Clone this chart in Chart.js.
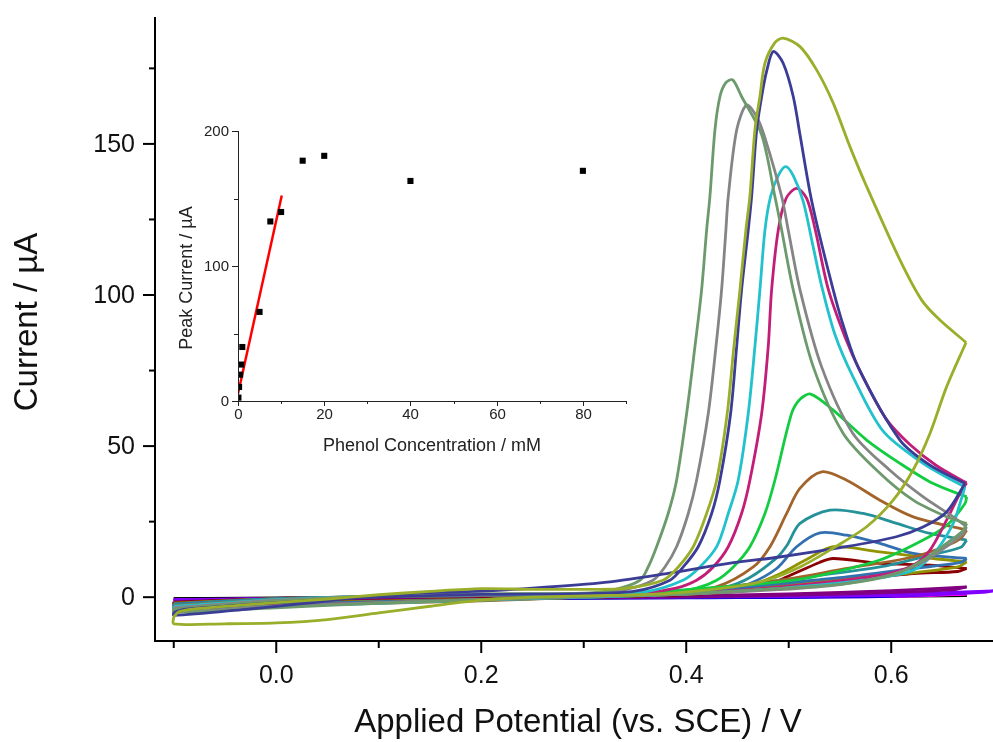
<!DOCTYPE html>
<html>
<head>
<meta charset="utf-8">
<script src="https://cdn.jsdelivr.net/npm/chart.js@4.4.1/dist/chart.umd.min.js"></script>
<style>
  body { margin: 0; background: #fff; }
  #wrap { position: relative; width: 993px; height: 742px; }
  #wrap canvas { position: absolute; left: 0; top: 0; }
</style>
</head>
<body>
<div id="wrap">
  <canvas id="cv" width="993" height="742"></canvas>
  <canvas id="inset" width="993" height="742"></canvas>
</div>
<script>
// Cyclic voltammograms: [potential V, current uA], forward then reverse scan
var oliveFwd = [[-0.1,-6.5],[-0.095,-4.8],[-0.08,-3.9],[-0.04,-2.8],[0,-1.8],[0.05,-0.6],[0.1,0.8],[0.15,1.9],[0.2,2.8],[0.25,2.6],[0.3,2.6],[0.34,2.9],[0.3773,5.6],[0.3922,10],[0.4068,16.7],[0.4199,27.7],[0.4297,38.7],[0.44,60.8],[0.4465,82.9],[0.4524,101.7],[0.4582,121.5],[0.4621,132.6],[0.467,154.6],[0.4719,165.7],[0.4768,176.7],[0.4865,183.5],[0.4946,185],[0.511,182.2],[0.5272,174.5],[0.5434,163.5],[0.5597,149.1],[0.576,135.9],[0.6085,111.6],[0.6297,98.3],[0.6475,91.7],[0.673,84.3]];
var oliveRev = [[0.673,84.3],[0.654,69.6],[0.6378,54.2],[0.6212,42],[0.6017,32],[0.576,23.3],[0.5431,16.2],[0.511,10],[0.4784,5.6],[0.4456,3.4],[0.381,1.2],[0.3,0.4],[0.25,0],[0.2,-1],[0.15,-3],[0.1,-5.2],[0.05,-7.4],[0,-8.5],[-0.05,-8.8],[-0.1,-8.8],[-0.1,-6.5]];

var navyFwd = [[-0.1,-5],[-0.09,-4],[-0.05,-3],[0,-1.8],[0.05,-0.8],[0.1,0],[0.2,0.9],[0.3,1.2],[0.35,2],[0.3841,5.6],[0.3971,10],[0.4117,16.7],[0.4248,27.7],[0.4329,38.7],[0.4433,60.8],[0.4492,82.9],[0.454,101.7],[0.4605,121.5],[0.4638,132.6],[0.4687,154.6],[0.4736,165.7],[0.4784,174],[0.4849,180.6],[0.4946,176.7],[0.5044,165.7],[0.511,153],[0.5207,134],[0.5288,121.5],[0.5434,101.7],[0.5516,91.7],[0.5675,76.3],[0.6085,52],[0.6378,43.7],[0.672,37.6]];
var navyRev = [[0.672,37.6],[0.654,28.2],[0.631,23.2],[0.605,20],[0.556,16.7],[0.491,13.3],[0.446,11.4],[0.381,7.8],[0.316,4.7],[0.228,2.5],[0.182,1.8],[0.128,1.2],[0.08,0],[0.03,-2],[-0.03,-4],[-0.1,-6],[-0.1,-5]];

var sageFwd = [[-0.1,-4],[-0.05,-2.6],[0,-1.3],[0.1,0.3],[0.2,1.1],[0.3,1.3],[0.33,2.5],[0.3549,5.6],[0.3629,10],[0.3711,16.7],[0.3824,27.7],[0.3906,38.7],[0.4004,60.8],[0.4085,82.9],[0.415,101.7],[0.4199,121.5],[0.4231,132.6],[0.428,154.6],[0.4329,165.7],[0.4385,170.2],[0.4453,171.2],[0.454,165.7],[0.4736,153],[0.4865,132.6],[0.4931,121.5],[0.5044,101.7],[0.5239,76.3],[0.5532,54.2],[0.589,41],[0.6215,32.1],[0.654,26.6],[0.6736,24.4]];
var sageRev = [[0.6736,24.4],[0.67,22],[0.654,17.8],[0.6312,12.3],[0.6053,7.8],[0.5565,4.5],[0.4914,2.9],[0.4,1.2],[0.3,0.3],[0.2,-0.8],[0.1,-2],[0,-3.5],[-0.1,-5],[-0.1,-4]];

var grayFwd = [[-0.1,-3.5],[-0.05,-2.2],[0,-1],[0.1,0.3],[0.2,1],[0.3,1.2],[0.34,2.5],[0.3675,5.6],[0.3792,10],[0.3906,16.7],[0.402,27.7],[0.4101,38.7],[0.4215,60.8],[0.429,82.9],[0.4345,101.7],[0.4387,121.5],[0.441,132.6],[0.4492,154.6],[0.4589,162.9],[0.4687,159],[0.4768,152],[0.4931,132.6],[0.4995,121.5],[0.511,101.7],[0.532,76.3],[0.5626,54.2],[0.5987,42],[0.6312,33.2],[0.6605,26.6],[0.6735,23.3]];
var grayRev = [[0.6735,23.3],[0.67,21],[0.655,17],[0.63,11.5],[0.6,7.5],[0.55,4.2],[0.49,2.5],[0.4,1],[0.3,0.2],[0.2,-0.8],[0.1,-1.8],[0,-3],[-0.1,-4.5],[-0.1,-3.5]];

var cyanFwd = [[-0.1,-3],[0,-0.8],[0.1,0.3],[0.2,0.8],[0.3,1],[0.36,1.8],[0.3968,5.6],[0.4134,10],[0.4297,16.7],[0.441,27.7],[0.4507,38.7],[0.4605,60.8],[0.467,82.9],[0.4719,101.7],[0.4768,121.5],[0.4823,132.6],[0.4898,139.5],[0.497,142.5],[0.5044,139.5],[0.5141,131],[0.5232,117],[0.5321,103],[0.545,87],[0.5626,73],[0.5919,55],[0.63,44.5],[0.655,39.5],[0.6719,36.5]];
var cyanRev = [[0.6719,36.5],[0.668,32],[0.6605,24.4],[0.6443,15.6],[0.6215,8.9],[0.5727,5.6],[0.4914,2.9],[0.4,1],[0.3,0],[0.2,-1],[0.1,-2],[0,-3],[-0.1,-4],[-0.1,-3]];

var magentaFwd = [[-0.1,-3.2],[0,-1],[0.1,0.2],[0.2,0.7],[0.3,1],[0.36,1.5],[0.39,3],[0.4101,5.6],[0.4263,10],[0.441,16.7],[0.454,27.7],[0.4621,38.7],[0.4736,60.8],[0.48,82.9],[0.4833,101.7],[0.4898,121.5],[0.4975,132],[0.5077,135.3],[0.5175,132],[0.5256,122],[0.5385,102],[0.555,86],[0.5694,75],[0.595,59],[0.6182,50.5],[0.6443,43.5],[0.6736,37.8]];
var magentaRev = [[0.6736,37.8],[0.667,34.3],[0.654,25.5],[0.6378,15.6],[0.6215,10.6],[0.589,7.3],[0.4914,3.4],[0.4,1.2],[0.3,0.2],[0.2,-0.8],[0.1,-1.8],[0,-2.8],[-0.1,-4],[-0.1,-3.2]];

var greenFwd = [[-0.1,-3.5],[0,-1],[0.1,0.2],[0.2,0.8],[0.3,1],[0.38,1.6],[0.41,3],[0.4297,5.6],[0.4459,10],[0.4621,16.7],[0.4768,27.7],[0.4865,38.7],[0.5028,60.8],[0.511,65.5],[0.5214,67.2],[0.5434,61.9],[0.576,52],[0.6085,44.3],[0.641,37.6],[0.6736,33.2]];
var greenRev = [[0.6736,33.2],[0.672,31],[0.655,24],[0.6312,18.9],[0.589,12.3],[0.5239,6.7],[0.4914,5.1],[0.42,3],[0.35,1.3],[0.3,0.5],[0.2,-0.8],[0.1,-1.8],[0,-3],[-0.1,-4.2],[-0.1,-3.5]];

var brownFwd = [[-0.1,-2.8],[0,-0.8],[0.1,0.2],[0.2,0.6],[0.3,0.8],[0.38,1.2],[0.43,3.5],[0.4654,10],[0.4817,16.7],[0.498,27.7],[0.5109,36],[0.5321,41.5],[0.5565,38.7],[0.589,32.1],[0.6215,26.6],[0.6736,22.2]];
var brownRev = [[0.6736,22.2],[0.668,19.5],[0.654,17],[0.6215,13.3],[0.5565,9.5],[0.4914,5.6],[0.42,2.8],[0.35,1],[0.3,0],[0.2,-1.2],[0.1,-2],[0,-2.8],[-0.1,-3.6],[-0.1,-2.8]];

var tealFwd = [[-0.1,-2.5],[0,-0.6],[0.1,0.2],[0.2,0.6],[0.3,0.8],[0.4,1.5],[0.44,3.5],[0.4621,6.5],[0.4882,13],[0.498,17],[0.511,24.4],[0.5402,28.8],[0.5727,27.7],[0.6053,24.4],[0.6378,21.1],[0.6736,18.9]];
var tealRev = [[0.6736,18.9],[0.668,16.5],[0.6378,13.9],[0.589,10],[0.4914,5.6],[0.42,2.5],[0.35,0.8],[0.3,0],[0.2,-1],[0.1,-1.8],[0,-2.6],[-0.1,-3.2],[-0.1,-2.5]];

var steelFwd = [[-0.1,-2.2],[0,-0.5],[0.1,0.2],[0.2,0.5],[0.3,0.7],[0.4,1.2],[0.44,2.5],[0.4621,4.5],[0.4882,9.5],[0.5077,16.7],[0.5304,21.3],[0.5565,20.5],[0.589,17.8],[0.6215,14.5],[0.6736,12.8]];
var steelRev = [[0.6736,12.8],[0.668,11.5],[0.6215,9.5],[0.5565,6.7],[0.4914,4.5],[0.42,2],[0.35,0.5],[0.3,0],[0.2,-0.8],[0.1,-1.5],[0,-2.2],[-0.1,-2.8],[-0.1,-2.2]];

var darkOliveFwd = [[-0.1,-2],[0,-0.5],[0.1,0.2],[0.2,0.5],[0.3,0.6],[0.4,1],[0.45,2.5],[0.49,7.5],[0.52,13],[0.5434,16.7],[0.589,15],[0.641,12.8],[0.6736,11.7]];
var darkOliveRev = [[0.6736,11.7],[0.665,10],[0.62,8],[0.55,6],[0.49,4],[0.42,1.8],[0.35,0.4],[0.2,-0.7],[0.1,-1.3],[0,-2],[-0.1,-2.5],[-0.1,-2]];

var wineFwd = [[-0.1,-1.8],[0,-0.4],[0.1,0.2],[0.2,0.4],[0.3,0.5],[0.4,0.8],[0.47,2.8],[0.5,7],[0.53,11.5],[0.5434,12.8],[0.589,11.2],[0.6378,10.6],[0.6736,9.5]];
var wineRev = [[0.6736,9.5],[0.665,8.5],[0.6215,7.8],[0.5565,5.6],[0.49,3.5],[0.42,1.5],[0.35,0.3],[0.2,-0.6],[0.1,-1.2],[0,-1.8],[-0.1,-2.3],[-0.1,-1.8]];

var purpleFwd = [[-0.1,-1.5],[0,-0.5],[0.1,0],[0.2,0.3],[0.4,0.6],[0.5,1.1],[0.6,2.2],[0.6736,3.4]];
var purpleRev = [[0.6736,3.4],[0.66,2.4],[0.55,1],[0.4,0.1],[0.2,-0.4],[0,-1],[-0.1,-1.8],[-0.1,-1.5]];

var violetFwd = [[-0.1,-0.8],[0.1,0],[0.3,0.2],[0.5,0.4],[0.6,0.9],[0.7,2.1]];
var violetRev = [[0.7,2.1],[0.69,1.6],[0.6,0.5],[0.4,0],[0.2,-0.3],[0,-0.6],[-0.1,-0.8]];

var blueFwd = [[-0.1,-1.2],[0.1,0],[0.3,0.2],[0.5,0.4],[0.6,0.7],[0.6736,1.5]];
var blueRev = [[0.6736,1.5],[0.6,0.3],[0.4,-0.2],[0.2,-0.5],[0,-0.9],[-0.1,-1.2]];

var pinkFwd = [[-0.1,-1],[0.1,0],[0.3,0.1],[0.5,0.3],[0.6,0.6],[0.6736,1]];
var pinkRev = [[0.6736,1],[0.6,0.2],[0.4,-0.1],[0.2,-0.4],[0,-0.8],[-0.1,-1]];

var blackFwd = [[-0.1,-0.5],[0.1,0],[0.4,0.1],[0.6736,0.5]];
var blackRev = [[0.6736,0.5],[0.4,-0.1],[0,-0.4],[-0.1,-0.5]];

// drawn first = on top
var curves = [
  [oliveFwd, oliveRev, "#9aae2a"],
  [navyFwd, navyRev, "#3b3c96"],
  [sageFwd, sageRev, "#6c9a6c"],
  [grayFwd, grayRev, "#858585"],
  [cyanFwd, cyanRev, "#22c2cc"],
  [magentaFwd, magentaRev, "#c21e78"],
  [greenFwd, greenRev, "#14cc40"],
  [brownFwd, brownRev, "#a2642a"],
  [tealFwd, tealRev, "#25929a"],
  [steelFwd, steelRev, "#3370b0"],
  [darkOliveFwd, darkOliveRev, "#8f9400"],
  [wineFwd, wineRev, "#8b0000"],
  [purpleFwd, purpleRev, "#800080"],
  [violetFwd, violetRev, "#8000ff"],
  [blueFwd, blueRev, "#0000d0"],
  [pinkFwd, pinkRev, "#ff00ff"],
  [blackFwd, blackRev, "#000000"]
];

var xTicks = [-0.1, 0, 0.1, 0.2, 0.3, 0.4, 0.5, 0.6];
var xLabels = ["", "0.0", "", "0.2", "", "0.4", "", "0.6"];
var yTicks = [0, 25, 50, 75, 100, 125, 150, 175];
var yLabels = ["0", "", "50", "", "100", "", "150", ""];

// inset: peak current vs phenol concentration
var phenolConc = [0.1, 0.25, 0.5, 0.75, 1, 5, 7.5, 10, 15, 20, 40, 80];
var peakCurrent = [2.5, 10.4, 19.5, 27, 40, 66, 133, 140, 178, 181.6, 163, 170.5];
var fitConc = [0, 10.15];
var fitCurrent = [5.4, 152.3];
var insetXTicks = [0, 10, 20, 30, 40, 50, 60, 70, 80, 90];
var insetYTicks = [0, 50, 100, 150, 200];

var FONT = '"Liberation Sans", Arial, sans-serif';

function toPts(arr) {
  return arr.map(function (p) { return { x: p[0], y: p[1] }; });
}

var datasets = [];
curves.forEach(function (c) {
  [c[0], c[1]].forEach(function (seg) {
    datasets.push({
      data: toPts(seg),
      showLine: true,
      borderColor: c[2],
      borderWidth: 2.8,
      tension: 0.3,
      pointRadius: 0,
      fill: false
    });
  });
});

function line(ctx, x1, y1, x2, y2) {
  ctx.beginPath(); ctx.moveTo(x1, y1); ctx.lineTo(x2, y2); ctx.stroke();
}

var mainAxes = {
  id: "mainAxes",
  afterDraw: function (chart) {
    var ctx = chart.ctx, a = chart.chartArea, x = chart.scales.x, y = chart.scales.y;
    ctx.save();
    ctx.strokeStyle = "#000";
    ctx.fillStyle = "#111";
    ctx.lineWidth = 2;
    line(ctx, a.left, a.top, a.left, a.bottom + 1);
    line(ctx, a.left - 1, a.bottom, a.right, a.bottom);
    ctx.font = "25px " + FONT;
    ctx.textAlign = "right";
    ctx.textBaseline = "middle";
    yTicks.forEach(function (v, i) {
      var py = y.getPixelForValue(v);
      var len = yLabels[i] ? 12 : 6;
      line(ctx, a.left - len, py, a.left, py);
      if (yLabels[i]) ctx.fillText(yLabels[i], a.left - 20, py + 1);
    });
    ctx.textAlign = "center";
    xTicks.forEach(function (v, i) {
      var px = x.getPixelForValue(v);
      var len = xLabels[i] ? 12 : 7;
      line(ctx, px, a.bottom, px, a.bottom + len);
      if (xLabels[i]) ctx.fillText(xLabels[i], px, a.bottom + 35);
    });
    ctx.font = "33px " + FONT;
    ctx.textBaseline = "alphabetic";
    ctx.fillText("Applied Potential (vs. SCE) / V", (a.left + a.right) / 2 + 4, 732);
    ctx.translate(37, 322);
    ctx.rotate(-Math.PI / 2);
    ctx.fillText("Current / \u00b5A", 0, 0);
    ctx.restore();
  }
};

new Chart(document.getElementById("cv"), {
  type: "scatter",
  data: { datasets: datasets },
  options: {
    responsive: false,
    animation: false,
    layout: { padding: { left: 155, right: 0, top: 17, bottom: 101 } },
    scales: {
      x: { type: "linear", min: -0.1183, max: 0.6993, display: false },
      y: { type: "linear", min: -14.5, max: 192, display: false }
    },
    plugins: { legend: { display: false }, tooltip: { enabled: false } }
  },
  plugins: [mainAxes]
});

var insetAxes = {
  id: "insetAxes",
  afterDraw: function (chart) {
    var ctx = chart.ctx, a = chart.chartArea, x = chart.scales.x, y = chart.scales.y;
    ctx.save();
    ctx.strokeStyle = "#222";
    ctx.fillStyle = "#222";
    ctx.lineWidth = 1;
    line(ctx, a.left + 0.5, a.top, a.left + 0.5, a.bottom + 0.5);
    line(ctx, a.left, a.bottom + 0.5, a.right, a.bottom + 0.5);
    ctx.font = "15px " + FONT;
    ctx.textAlign = "right";
    ctx.textBaseline = "middle";
    insetYTicks.forEach(function (v) {
      var py = Math.round(y.getPixelForValue(v)) + 0.5;
      var major = v % 100 === 0;
      line(ctx, a.left - (major ? 6 : 4), py, a.left, py);
      if (major) ctx.fillText(String(v), a.left - 9, py);
    });
    ctx.textAlign = "center";
    insetXTicks.forEach(function (v) {
      var px = Math.round(x.getPixelForValue(v)) + 0.5;
      var major = v % 20 === 0;
      line(ctx, px, a.bottom, px, a.bottom + (major ? 5 : 3));
      if (major && v < 90) ctx.fillText(String(v), px, a.bottom + 14);
    });
    ctx.font = "18px " + FONT;
    ctx.textBaseline = "alphabetic";
    ctx.fillText("Phenol Concentration / mM", 432, 451);
    ctx.translate(192, 278);
    ctx.rotate(-Math.PI / 2);
    ctx.fillText("Peak Current / \u00b5A", 0, 0);
    ctx.restore();
  }
};

new Chart(document.getElementById("inset"), {
  type: "scatter",
  data: {
    datasets: [
      {
        data: phenolConc.map(function (c, i) { return { x: c, y: peakCurrent[i] }; }),
        pointStyle: "rect",
        pointRadius: 4.3,
        backgroundColor: "#000",
        borderColor: "#000",
        borderWidth: 0
      },
      {
        data: fitConc.map(function (c, i) { return { x: c, y: fitCurrent[i] }; }),
        showLine: true,
        borderColor: "#ff0000",
        borderWidth: 2.5,
        pointRadius: 0
      }
    ]
  },
  options: {
    responsive: false,
    animation: false,
    layout: { padding: { left: 238, right: 367, top: 131, bottom: 341 } },
    scales: {
      x: { type: "linear", min: 0, max: 90, display: false },
      y: { type: "linear", min: 0, max: 200, display: false }
    },
    plugins: { legend: { display: false }, tooltip: { enabled: false } }
  },
  plugins: [insetAxes]
});
</script>
</body>
</html>
